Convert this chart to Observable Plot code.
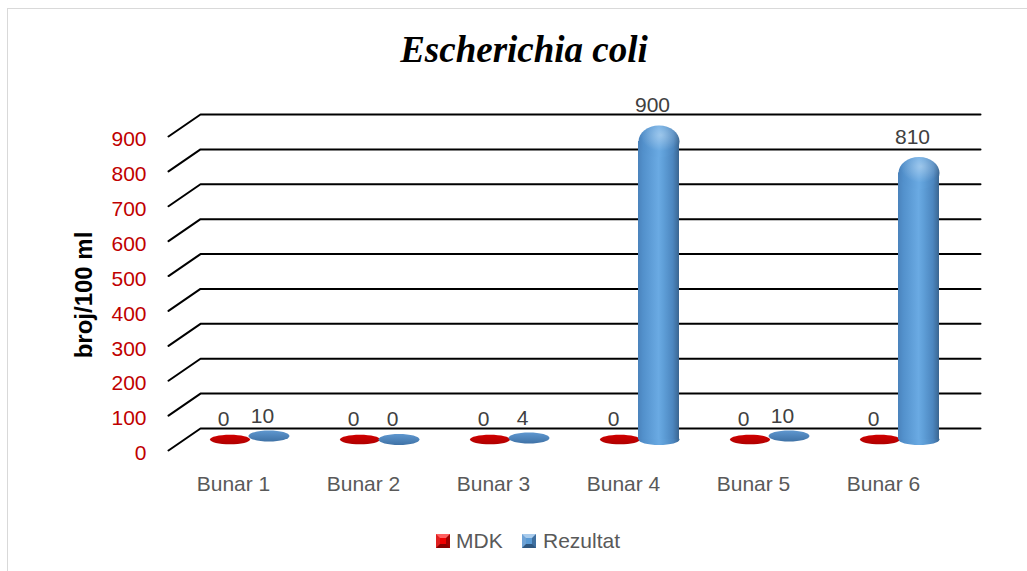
<!DOCTYPE html>
<html>
<head>
<meta charset="utf-8">
<script src="https://cdn.jsdelivr.net/npm/d3@7"></script>
<script src="https://cdn.jsdelivr.net/npm/@observablehq/plot@0.6"></script>
<style>
  html, body { margin: 0; padding: 0; background: #fff; overflow: hidden; }
  #wrap { position: relative; width: 1027px; height: 571px; overflow: hidden; }
  #chart { position: absolute; left: 0; top: 0; }
  #title { position: absolute; left: 524px; top: 31px; transform: translateX(-50%);
    font: bold italic 37px/37px "Liberation Serif", "Times New Roman", serif; color: #000; white-space: nowrap; }
  #ytitle { position: absolute; left: 84px; top: 295px; transform: translate(-50%, -50%) rotate(-90deg);
    font: bold 24px/24px "Liberation Sans", Arial, sans-serif; color: #000; white-space: nowrap; }
  .sw { position: absolute; top: 534px; width: 14px; height: 14px; box-sizing: border-box; border: 4px solid; }
  .lt { position: absolute; top: 530px; font: 21px/21px "Liberation Sans", Arial, sans-serif; color: #595959; white-space: nowrap; }
  #frame { position: absolute; left: 7px; top: 8px; width: 1200px; height: 800px; border: 1.5px solid #d9d9d9; pointer-events: none; }
</style>
</head>
<body>
<div id="wrap">
  <svg width="0" height="0" style="position:absolute">
    <defs>
      <linearGradient id="cylBody" x1="0" y1="0" x2="1" y2="0">
        <stop offset="0" stop-color="#4a82bb"/>
        <stop offset="0.12" stop-color="#5290cb"/>
        <stop offset="0.5" stop-color="#6aaae3"/>
        <stop offset="0.62" stop-color="#5f9fd8"/>
        <stop offset="0.85" stop-color="#4c86bf"/>
        <stop offset="1" stop-color="#3a6590"/>
      </linearGradient>
      <linearGradient id="flatBlue" x1="0" y1="0" x2="0" y2="1">
        <stop offset="0" stop-color="#5f97cf"/>
        <stop offset="1" stop-color="#3f72a6"/>
      </linearGradient>
      <linearGradient id="flatRed" x1="0" y1="0" x2="0" y2="1">
        <stop offset="0" stop-color="#d00000"/>
        <stop offset="1" stop-color="#b00000"/>
      </linearGradient>
      <radialGradient id="domeHi" cx="0.55" cy="0.3" r="0.5">
        <stop offset="0" stop-color="#ffffff" stop-opacity="0.35"/>
        <stop offset="1" stop-color="#ffffff" stop-opacity="0"/>
      </radialGradient>
    </defs>
  </svg>
  <div id="chart"></div>
  <div id="title">Escherichia coli</div>
  <div id="ytitle">broj/100 ml</div>
  <div class="sw" style="left:436px; background:#f00000; border-color:#ff6060 #a00000 #8a0000 #e02020;"></div>
  <div class="lt" style="left:456px;">MDK</div>
  <div class="sw" style="left:522px; background:#5b9bd5; border-color:#a8cbec #3f6f9f #2f5780 #6fa3d6;"></div>
  <div class="lt" style="left:543px;">Rezultat</div>
  <div id="frame"></div>
</div>
<script>
const categories = ["Bunar 1", "Bunar 2", "Bunar 3", "Bunar 4", "Bunar 5", "Bunar 6"];
const mdk = [0, 0, 0, 0, 0, 0];
const rezultat = [10, 0, 4, 900, 10, 810];
const yTicks = [0, 100, 200, 300, 400, 500, 600, 700, 800, 900];

const W = 1027, H = 571, ML = 168, MR = 79, MT = 136, MB = 121;
const yMax = 900;
const kx = (W - ML - MR) / categories.length;   // px per category (front plane)
const ky = (H - MT - MB) / yMax;                 // px per unit (front plane)
const DEPTH_X = 32, DEPTH_Y = 22;                // 3D depth in px
const depthX = DEPTH_X / kx, depthY = DEPTH_Y / ky;
const midDx = DEPTH_X / 2, midDy = -DEPTH_Y / 2;
const SHIFT = 19.5;         // series offset from category centre (px)
const RX = 20.5;            // cylinder radius (px)
const HALF = RX / kx;
const DOME = 16;            // height of rounded top (px)

const rows = categories.map((c, i) => ({c, i, mdk: mdk[i], rez: rezultat[i]}));
const big = rows.filter(d => d.rez >= 100);
const small = rows.filter(d => d.rez < 100);

// gridlines: front diagonal + back horizontal
const gridPts = yTicks.flatMap(t => [
  {t, x: 0, y: t},
  {t, x: depthX, y: t + depthY},
  {t, x: categories.length + depthX, y: t + depthY}
]);

function ellipse(rx, ry) {
  const k = 0.5523;
  return {
    draw(ctx) {
      ctx.moveTo(rx, 0);
      ctx.bezierCurveTo(rx, k * ry, k * rx, ry, 0, ry);
      ctx.bezierCurveTo(-k * rx, ry, -rx, k * ry, -rx, 0);
      ctx.bezierCurveTo(-rx, -k * ry, -k * rx, -ry, 0, -ry);
      ctx.bezierCurveTo(k * rx, -ry, rx, -k * ry, rx, 0);
      ctx.closePath();
    }
  };
}

const cx = d => d.i + 0.5;
const FONT = "'Liberation Sans', Arial, sans-serif";

const plot = Plot.plot({
  width: W, height: H,
  marginLeft: ML, marginRight: MR, marginTop: MT, marginBottom: MB,
  x: {type: "linear", domain: [0, categories.length], axis: null},
  y: {type: "linear", domain: [0, yMax], axis: null},
  style: {background: "transparent", fontFamily: FONT},
  marks: [
    Plot.line(gridPts, {x: "x", y: "y", z: "t", stroke: "#000", strokeWidth: 2}),
    // MDK (red) flat discs
    Plot.dot(rows, {x: cx, y: d => d.mdk, dx: midDx - SHIFT, dy: midDy, symbol: ellipse(20, 4.8), fill: "url(#flatRed)", stroke: "none"}),
    // Rezultat small values: flat discs
    Plot.dot(small, {x: cx, y: d => d.rez, dx: midDx + SHIFT, dy: midDy, symbol: ellipse(RX, 5.5), fill: "url(#flatBlue)", stroke: "none"}),
    // Rezultat big values: cylinders
    Plot.dot(big, {x: cx, y: () => 0, dx: midDx + SHIFT, dy: midDy, symbol: ellipse(RX, 5.5), fill: "url(#cylBody)", stroke: "none"}),
    Plot.rect(big, {x1: d => cx(d) - HALF, x2: d => cx(d) + HALF, y1: () => 0, y2: d => d.rez, insetTop: DOME,
      dx: midDx + SHIFT, dy: midDy, fill: "url(#cylBody)"}),
    Plot.dot(big, {x: cx, y: d => d.rez, dx: midDx + SHIFT, dy: midDy + DOME, symbol: ellipse(RX, DOME), fill: "url(#cylBody)", stroke: "none"}),
    Plot.dot(big, {x: cx, y: d => d.rez, dx: midDx + SHIFT, dy: midDy + DOME, symbol: ellipse(RX, DOME), fill: "url(#domeHi)", stroke: "none"}),
    // data labels
    Plot.text(rows, {x: cx, y: d => d.mdk, text: d => String(d.mdk), dx: midDx - SHIFT - 6.5, dy: -31, fill: "#404040", fontSize: 21, fontFamily: FONT}),
    Plot.text(rows, {x: cx, y: d => d.rez, text: d => String(d.rez), dx: midDx + SHIFT - 6.5, dy: -31, fill: "#404040", fontSize: 21, fontFamily: FONT}),
    // y tick labels
    Plot.text(yTicks, {x: () => 0, y: d => d, text: d => String(d), textAnchor: "end", dx: -22, dy: 3, fill: "#C00000", fontSize: 21, fontFamily: FONT}),
    // x category labels
    Plot.text(categories, {x: (d, i) => i + 0.5, y: () => 0, text: d => d, dy: 33.5, fill: "#595959", fontSize: 21, fontFamily: FONT})
  ]
});
document.getElementById("chart").appendChild(plot);
</script>
</body>
</html>
